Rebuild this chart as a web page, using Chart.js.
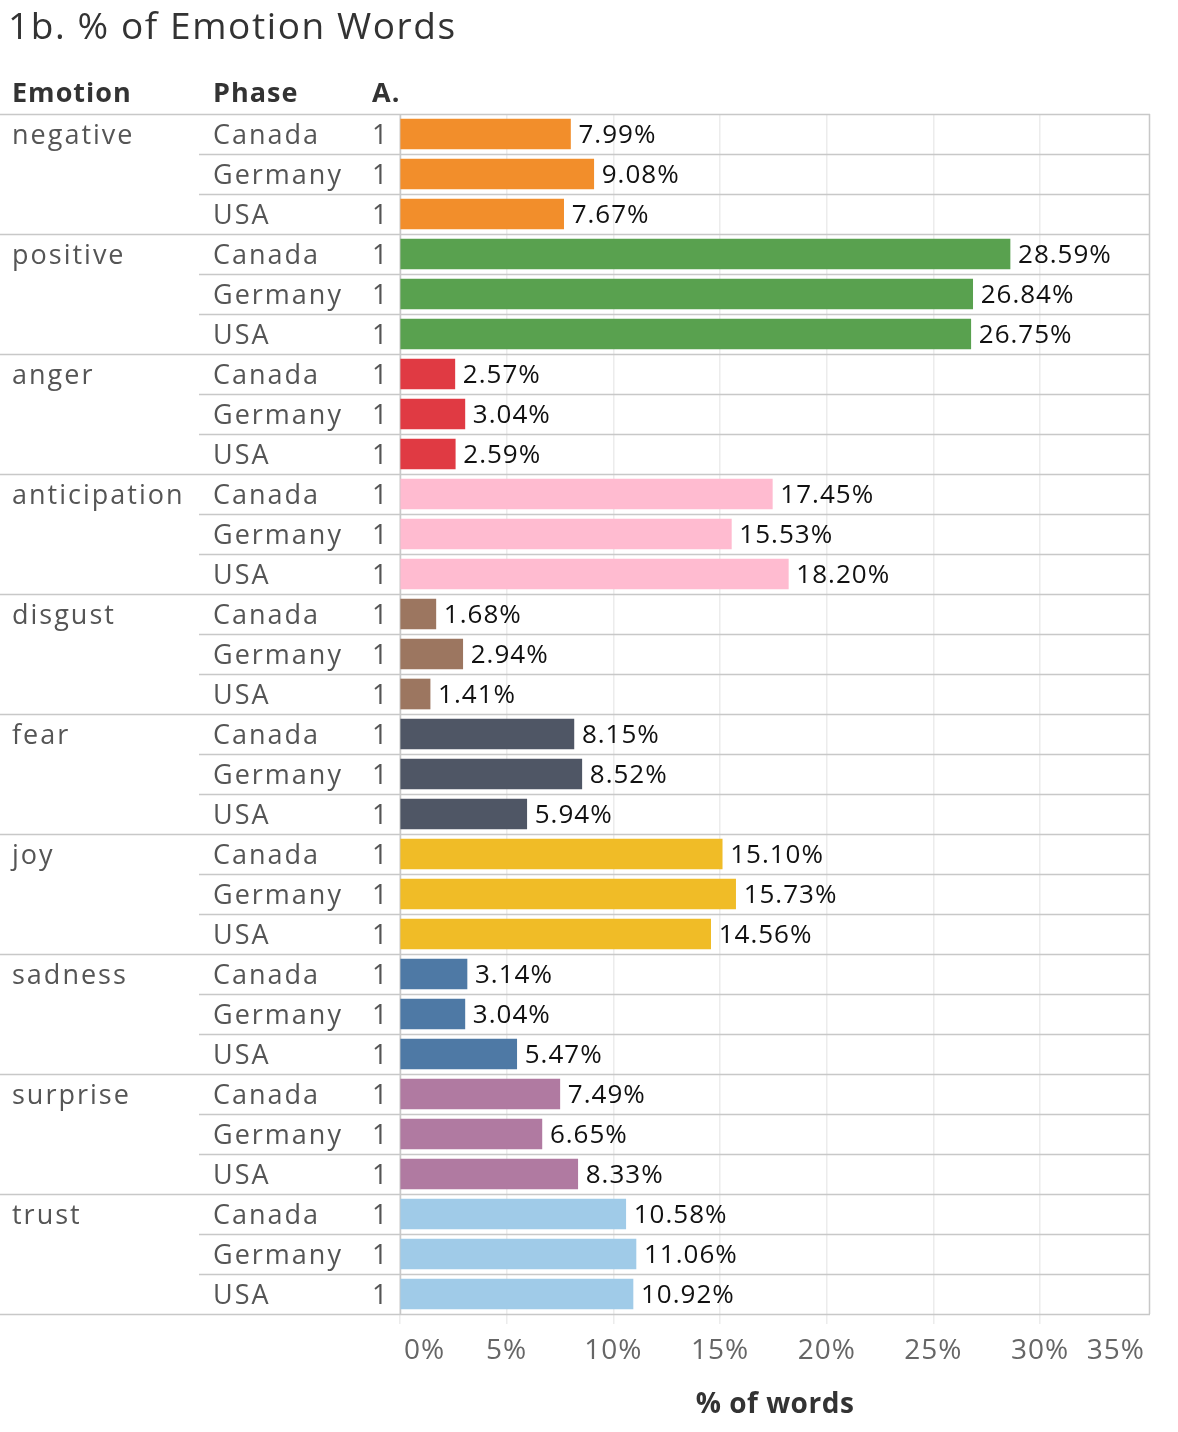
<!DOCTYPE html>
<html>
<head>
<meta charset="utf-8">
<script src="https://cdn.jsdelivr.net/npm/chart.js@4.4.1/dist/chart.umd.min.js"></script>
<style>
  html, body { margin: 0; padding: 0; background: #fff; overflow: hidden; }
  canvas { display: block; }
</style>
</head>
<body>
<canvas id="chart" width="1178" height="1432"></canvas>
<script>
// --- data ---
const emotions = ['negative', 'positive', 'anger', 'anticipation', 'disgust', 'fear', 'joy', 'sadness', 'surprise', 'trust'];
const phases = ['Canada', 'Germany', 'USA'];
const canada  = [7.99, 28.59, 2.57, 17.45, 1.68, 8.15, 15.10, 3.14, 7.49, 10.58];
const germany = [9.08, 26.84, 3.04, 15.53, 2.94, 8.52, 15.73, 3.04, 6.65, 11.06];
const usa     = [7.67, 26.75, 2.59, 18.20, 1.41, 5.94, 14.56, 5.47, 8.33, 10.92];
const xTicks = [0, 5, 10, 15, 20, 25, 30, 35];
const emotionColors = ['#F28E2B', '#59A14F', '#E03A43', '#FFBBD0', '#9C7660', '#4F5665', '#F0BC27', '#4E79A5', '#B07AA1', '#A0CBE8'];

const FONT = '"Open Sans", sans-serif';

// --- flatten into one row per emotion x phase ---
const rowLabels = [];
const rowValues = [];
const rowColors = [];
emotions.forEach((e, i) => {
  [canada, germany, usa].forEach((series, j) => {
    rowLabels.push(e + '|' + phases[j]);
    rowValues.push(series[i]);
    rowColors.push(emotionColors[i]);
  });
});

// draws the header columns, row lines, value labels and axis text
const tablePlugin = {
  id: 'tablePlugin',
  beforeDatasetsDraw(chart) {
    const { ctx, chartArea, scales } = chart;
    const y = scales.y;
    ctx.save();
    // row separators
    for (let r = 0; r <= rowLabels.length; r++) {
      const top = r < rowLabels.length
        ? y.getPixelForValue(r) - 20
        : y.getPixelForValue(r - 1) + 20;
      const groupLine = r % 3 === 0;
      ctx.strokeStyle = '#c8c8c8';
      ctx.lineWidth = 1.5;
      ctx.beginPath();
      ctx.moveTo(groupLine ? 0 : 199, Math.round(top) + 0.5);
      ctx.lineTo(chartArea.right, Math.round(top) + 0.5);
      ctx.stroke();
    }
    // plot borders left/right
    ctx.beginPath();
    ctx.moveTo(chartArea.left + 0.5, chartArea.top);
    ctx.lineTo(chartArea.left + 0.5, chartArea.bottom);
    ctx.moveTo(chartArea.right - 0.5, chartArea.top);
    ctx.lineTo(chartArea.right - 0.5, chartArea.bottom);
    ctx.stroke();
    ctx.restore();
  },
  afterDatasetsDraw(chart) {
    const { ctx, chartArea, scales } = chart;
    const x = scales.x, y = scales.y;
    ctx.save();
    ctx.textBaseline = 'middle';

    // title
    ctx.fillStyle = '#333';
    ctx.font = '37px ' + FONT;
    ctx.letterSpacing = '1.6px';
    ctx.textAlign = 'left';
    ctx.fillText('1b. % of Emotion Words', 8, 28);

    // column headers
    ctx.font = 'bold 27px ' + FONT;
    ctx.letterSpacing = '1px';
    ctx.fillText('Emotion', 12, 94);
    ctx.fillText('Phase', 213, 94);
    ctx.fillText('A.', 372, 94);

    // row headers
    ctx.font = '27px ' + FONT;
    ctx.letterSpacing = '2px';
    ctx.fillStyle = '#555';
    rowLabels.forEach((lab, r) => {
      const cy = y.getPixelForValue(r) + 2;
      const [emo, ph] = lab.split('|');
      ctx.textAlign = 'left';
      if (r % 3 === 0) ctx.fillText(emo, 12, cy);
      ctx.fillText(ph, 213, cy);
      ctx.fillText('1', 372, cy);
    });

    // value labels
    ctx.font = '26px ' + FONT;
    ctx.letterSpacing = '1px';
    ctx.fillStyle = '#111';
    ctx.textAlign = 'left';
    rowValues.forEach((v, r) => {
      ctx.fillText(v.toFixed(2) + '%', x.getPixelForValue(v) + 8, y.getPixelForValue(r) + 2);
    });

    // x tick labels
    ctx.font = '28px ' + FONT;
    ctx.letterSpacing = '1px';
    ctx.fillStyle = '#666';
    xTicks.forEach((t, i) => {
      const px = x.getPixelForValue(t);
      if (i === 0) { ctx.textAlign = 'left'; ctx.fillText(t + '%', px + 4, 1351); }
      else if (i === xTicks.length - 1) { ctx.textAlign = 'right'; ctx.fillText(t + '%', chartArea.right - 5, 1351); }
      else { ctx.textAlign = 'center'; ctx.fillText(t + '%', px, 1351); }
    });

    // axis title
    ctx.font = 'bold 28px ' + FONT;
    ctx.letterSpacing = '0.5px';
    ctx.fillStyle = '#333';
    ctx.textAlign = 'center';
    ctx.fillText('% of words', (chartArea.left + chartArea.right) / 2, 1405);
    ctx.restore();
  }
};

new Chart(document.getElementById('chart'), {
  type: 'bar',
  data: {
    labels: rowLabels,
    datasets: [{
      data: rowValues,
      backgroundColor: rowColors,
      barThickness: 30,
      borderWidth: 0,
    }],
  },
  options: {
    indexAxis: 'y',
    responsive: false,
    animation: false,
    layout: { padding: { left: 0, right: 28, top: 114, bottom: 0 } },
    plugins: {
      legend: { display: false },
      tooltip: { enabled: false },
    },
    scales: {
      x: {
        min: 0,
        max: 35.15,
        afterBuildTicks: (scale) => { scale.ticks = xTicks.map(v => ({ value: v })); },
        afterFit: (scale) => { scale.height = 118; },
        ticks: { display: false },
        border: { display: false },
        grid: {
          color: (c) => (c.tick && c.tick.value === 35) ? 'rgba(0,0,0,0)' : '#ececec',
          lineWidth: 1.5,
          drawTicks: true,
          tickLength: 10,
          tickColor: (c) => (c.tick && c.tick.value === 35) ? 'rgba(0,0,0,0)' : '#ececec',
        },
      },
      y: {
        afterFit: (scale) => { scale.width = 400; },
        ticks: { display: false },
        border: { display: false },
        grid: { display: false },
      },
    },
  },
  plugins: [tablePlugin],
});
</script>
</body>
</html>
